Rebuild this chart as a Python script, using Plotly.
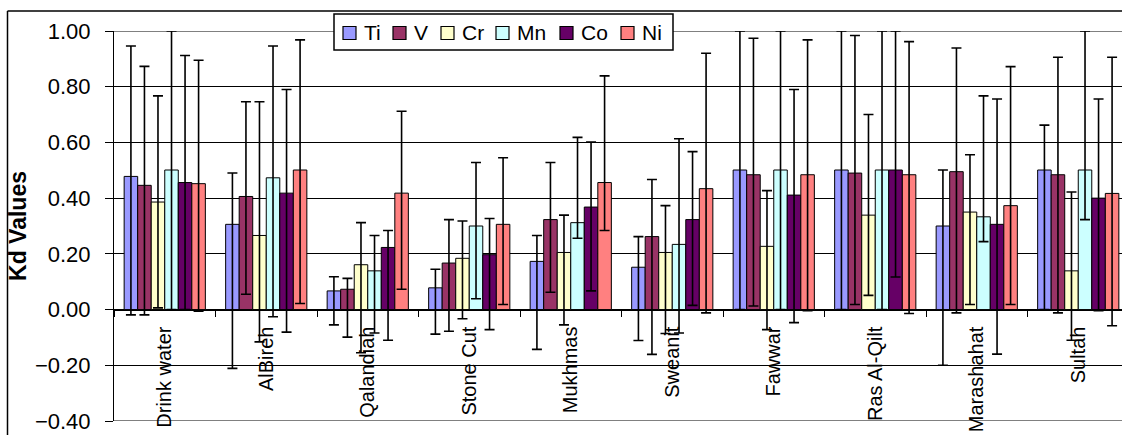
import numpy as np
import plotly.graph_objects as go

# Sampling sites (categories)
sites = ["Drink water", "AlBireh", "Qalandiah", "Stone Cut", "Mukhmas",
         "Sweanit", "Fawwar", "Ras Al-Qilt", "Marashahat", "Sultah"]

# Mean Kd values per element
ti = [0.478, 0.306, 0.067, 0.078, 0.173, 0.152, 0.501, 0.501, 0.300, 0.501]
v  = [0.446, 0.406, 0.073, 0.167, 0.323, 0.262, 0.484, 0.490, 0.495, 0.484]
cr = [0.386, 0.266, 0.161, 0.184, 0.205, 0.205, 0.227, 0.339, 0.350, 0.139]
mn = [0.501, 0.473, 0.139, 0.300, 0.312, 0.234, 0.501, 0.501, 0.333, 0.501]
co = [0.456, 0.418, 0.223, 0.197, 0.368, 0.323, 0.411, 0.501, 0.306, 0.400]
ni = [0.452, 0.501, 0.418, 0.306, 0.456, 0.434, 0.484, 0.484, 0.373, 0.417]

# Upper ends of the error bars
ti_hi = [0.946, 0.490, 0.118, 0.145, 0.266, 0.262, 1.000, 1.000, 0.501, 0.662]
v_hi  = [0.873, 0.746, 0.112, 0.323, 0.528, 0.467, 0.974, 0.984, 0.939, 0.906]
cr_hi = [0.767, 0.746, 0.312, 0.318, 0.339, 0.373, 0.427, 0.700, 0.556, 0.422]
mn_hi = [1.000, 0.946, 0.266, 0.528, 0.618, 0.613, 1.000, 1.000, 0.767, 1.000]
co_hi = [0.912, 0.790, 0.284, 0.327, 0.601, 0.567, 0.790, 1.000, 0.756, 0.756]
ni_hi = [0.895, 0.968, 0.712, 0.545, 0.839, 0.920, 0.968, 0.962, 0.872, 0.906]

# Lower ends of the error bars
ti_lo = [-0.019, -0.211, -0.055, -0.088, -0.143, -0.111, 0.000, 0.000, -0.200, 0.000]
v_lo  = [-0.019, 0.055, -0.099, -0.078, 0.062, -0.161, 0.013, 0.018, -0.012, -0.012]
cr_lo = [0.006, -0.116, -0.155, -0.033, -0.055, -0.086, -0.072, 0.051, 0.018, -0.110]
mn_lo = [0.000, -0.026, -0.084, 0.039, 0.256, -0.084, 0.000, 0.000, 0.244, 0.323]
co_lo = [0.000, -0.081, -0.110, -0.072, 0.067, 0.015, -0.047, 0.117, -0.160, -0.004]
ni_lo = [-0.006, 0.022, 0.073, 0.018, 0.284, -0.012, -0.004, -0.014, 0.018, -0.058]

elements = ["Ti", "V", "Cr", "Mn", "Co", "Ni"]
colors = ["#9999FF", "#993366", "#FFFFCC", "#CCFFFF", "#660066", "#FF8080"]
means = [ti, v, cr, mn, co, ni]
highs = [ti_hi, v_hi, cr_hi, mn_hi, co_hi, ni_hi]
lows = [ti_lo, v_lo, cr_lo, mn_lo, co_lo, ni_lo]

y_ticks = [-0.4, -0.2, 0.0, 0.2, 0.4, 0.6, 0.8, 1.0]

FONT = "Arial, Liberation Sans, sans-serif"

fig = go.Figure()
for name, col, m, hi, lo in zip(elements, colors, means, highs, lows):
    m = np.array(m)
    fig.add_trace(go.Bar(
        name=name, x=sites, y=m,
        marker=dict(color=col, line=dict(color="black", width=1)),
        error_y=dict(type="data", symmetric=False,
                     array=np.array(hi) - m, arrayminus=m - np.array(lo),
                     color="black", thickness=1.6, width=5),
    ))

W, H = 1122, 435
left, top, bottom = 114, 31, 14
plot_w = W - left
plot_h = H - top - bottom
cat_px = 101.5
x_max = -0.5 + plot_w / cat_px

def px_to_paper_x(px):
    return (px - left) / plot_w

def px_to_paper_y(py):
    return (H - bottom - py) / plot_h

zero_pos = (0 - y_ticks[0]) / (y_ticks[-1] - y_ticks[0])

fig.update_layout(
    width=W, height=H,
    margin=dict(l=left, r=0, t=top, b=bottom),
    paper_bgcolor="white", plot_bgcolor="white",
    barmode="group", bargap=0.2, bargroupgap=0,
    font=dict(family=FONT, size=19, color="black"),
    showlegend=False,
    xaxis=dict(range=[-0.5, x_max], anchor="free", position=zero_pos,
               showline=True, linecolor="black", linewidth=1,
               ticks="outside", tickson="boundaries", ticklen=6,
               tickcolor="black", tickwidth=1,
               tickangle=-90, ticklabelstandoff=8,
               tickfont=dict(family=FONT, size=20, color="black"),
               showgrid=False, zeroline=False),
    yaxis=dict(range=[y_ticks[0], y_ticks[-1]], tickvals=y_ticks,
               tickformat=".2f",
               showline=True, linecolor="black", linewidth=1,
               ticks="outside", ticklen=8, tickcolor="black", tickwidth=1,
               ticklabelstandoff=10,
               tickfont=dict(family=FONT, size=22, color="black"),
               showgrid=True, gridcolor="black", gridwidth=1,
               zeroline=False,
               title=dict(text="<b>Kd Values</b>", standoff=1,
                          font=dict(family=FONT, size=23, color="black"))),
)

# Plot-area border at the top and bottom of the value range
for yv in (y_ticks[0], y_ticks[-1]):
    fig.add_shape(type="line", xref="paper", yref="y", x0=0, x1=1, y0=yv, y1=yv,
                  line=dict(color="#808080", width=2), layer="between")

# Chart-area frame (left and top edges)
fx = px_to_paper_x(7.5)
fy = px_to_paper_y(11)
fig.add_shape(type="line", xref="paper", yref="paper", x0=fx, x1=fx, y0=-0.2, y1=fy,
              line=dict(color="black", width=1.5), layer="above")
fig.add_shape(type="line", xref="paper", yref="paper", x0=fx, x1=1.05, y0=fy, y1=fy,
              line=dict(color="black", width=1.5), layer="above")

# Legend box with one swatch + label per element
legend_box = (334, 14, 673, 50)          # left, top, right, bottom (px)
swatch_left = [343, 393, 441, 496, 560, 621]
swatch_size = 13
legend_mid = 33
fig.add_shape(type="rect", xref="paper", yref="paper",
              x0=px_to_paper_x(legend_box[0]), x1=px_to_paper_x(legend_box[2]),
              y0=px_to_paper_y(legend_box[3]), y1=px_to_paper_y(legend_box[1]),
              fillcolor="white", line=dict(color="black", width=1.5), layer="above")
for name, col, sx in zip(elements, colors, swatch_left):
    fig.add_shape(type="rect", xref="paper", yref="paper",
                  x0=px_to_paper_x(sx), x1=px_to_paper_x(sx + swatch_size),
                  y0=px_to_paper_y(legend_mid + swatch_size / 2),
                  y1=px_to_paper_y(legend_mid - swatch_size / 2),
                  fillcolor=col, line=dict(color="black", width=1.2), layer="above")
    fig.add_annotation(xref="paper", yref="paper", x=px_to_paper_x(sx + 20),
                       y=px_to_paper_y(legend_mid), text=name, showarrow=False,
                       xanchor="left", yanchor="middle", borderpad=0,
                       font=dict(family=FONT, size=21, color="black"))

fig.write_html("out.html")
